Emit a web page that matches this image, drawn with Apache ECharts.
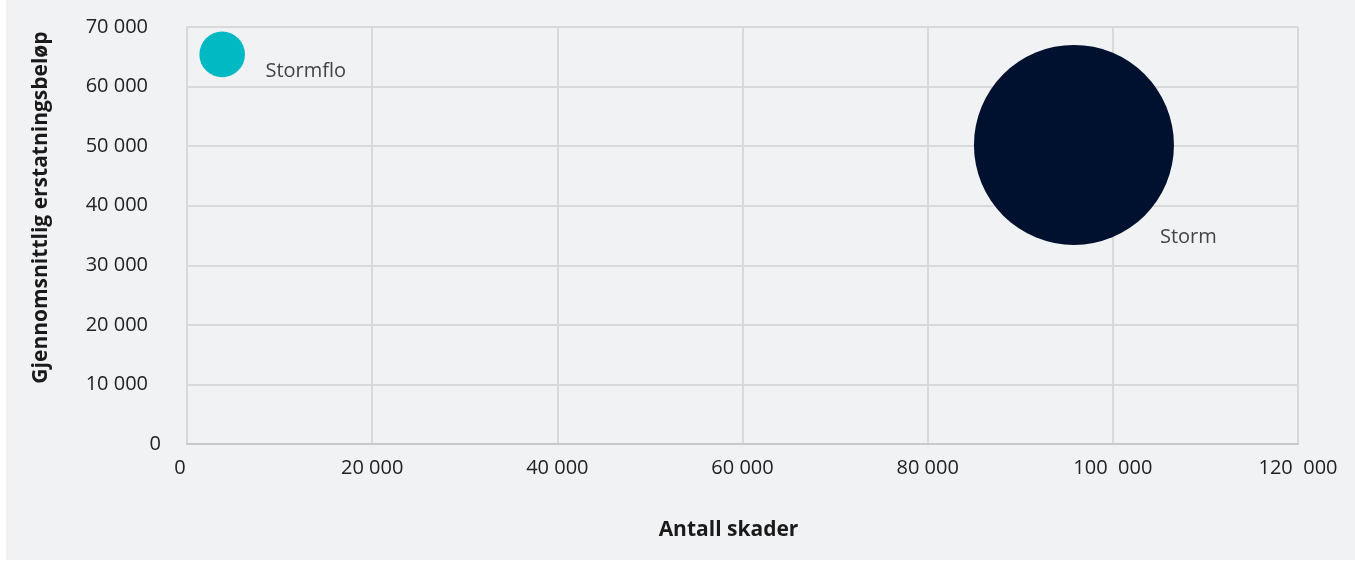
<!DOCTYPE html>
<html lang="no">
<head>
<meta charset="utf-8">
<title>Antall skader og gjennomsnittlig erstatningsbeløp</title>
<script src="https://cdn.jsdelivr.net/npm/echarts@6/dist/echarts.min.js"></script>
<style>
  html, body { margin: 0; padding: 0; background: #ffffff; }
  #panel { position: absolute; left: 6px; top: 0; width: 1349px; height: 560px; background: #f1f2f4; }
  #chart { position: absolute; left: -6px; top: 0; width: 1355px; height: 561px; }
</style>
</head>
<body>
<div id="panel"><div id="chart"></div></div>
<script>
// Skadetyper
const categories = ['Stormflo', 'Storm'];
// Antall skader
const claimCounts = [3800, 95800];
// Gjennomsnittlig erstatningsbeløp (kr)
const avgPayouts = [65400, 50200];
// Samlet erstatning (mill. kr) – styrer boblestørrelsen
const totalPayouts = [250, 4810];
const colors = ['#00b9c2', '#00112f'];

const xTickLabels = ['0', '20 000', '40 000', '60 000', '80 000', '100  000', '120  000'];
const yTickLabels = ['0', '10 000', '20 000', '30 000', '40 000', '50 000', '60 000', '70 000'];

const maxTotal = Math.max(...totalPayouts);
const MAX_BUBBLE = 200;
const labelPositions = [['145%', '86%'], ['93%', '96%']];

const data = categories.map((name, i) => ({
  name,
  value: [claimCounts[i], avgPayouts[i], totalPayouts[i]],
  itemStyle: { color: colors[i], opacity: 1 },
  label: { position: labelPositions[i] }
}));

const chart = echarts.init(document.getElementById('chart'), null, { renderer: 'canvas' });
chart.setOption({
  backgroundColor: 'transparent',
  animation: false,
  textStyle: { fontFamily: 'Open Sans' },
  grid: { left: 187, right: 57, top: 27, bottom: 117 },
  xAxis: {
    type: 'value', min: 0, max: 120000, interval: 20000,
    name: 'Antall skader', nameLocation: 'middle', nameGap: 76,
    nameTextStyle: { fontFamily: 'Open Sans', fontWeight: 'bold', fontSize: 21, color: '#1a1a1a', padding: [0, 28, 0, 0] },
    axisLine: { show: true, lineStyle: { color: '#c9c9c9', width: 2 } },
    axisTick: { show: false },
    axisLabel: {
      margin: 14, fontSize: 20, color: '#222222', fontFamily: 'Open Sans',
      formatter: v => {
        const t = xTickLabels[Math.round(v / 20000)];
        return v === 0 ? '{z|' + t + '}' : t;
      },
      rich: { z: { fontSize: 20, color: '#222222', fontFamily: 'Open Sans', padding: [0, 14, 0, 0] } }
    },
    splitLine: { show: true, lineStyle: { color: '#d9d9d9', width: 2 } }
  },
  yAxis: {
    type: 'value', min: 0, max: 70000, interval: 10000,
    name: 'Gjennomsnittlig erstatningsbeløp', nameLocation: 'middle', nameGap: 135,
    nameTextStyle: { fontFamily: 'Open Sans', fontWeight: 'bold', fontSize: 21, color: '#1a1a1a', padding: [0, 0, 0, 56] },
    axisLine: { show: true, lineStyle: { color: '#d9d9d9', width: 2 } },
    axisTick: { show: false },
    axisLabel: {
      margin: 26, fontSize: 20, color: '#222222', fontFamily: 'Open Sans',
      formatter: v => {
        const t = yTickLabels[Math.round(v / 10000)];
        return v === 0 ? t : '{n|' + t + '}';
      },
      rich: { n: { fontSize: 20, color: '#222222', fontFamily: 'Open Sans', padding: [0, 13, 0, 0] } }
    },
    splitLine: { show: true, lineStyle: { color: '#d9d9d9', width: 2 } }
  },
  series: [{
    type: 'scatter',
    data,
    symbol: 'circle',
    symbolSize: v => MAX_BUBBLE * Math.sqrt(v[2] / maxTotal),
    label: {
      show: true,
      formatter: p => p.name,
      fontSize: 20, color: '#444444', fontFamily: 'Open Sans',
      align: 'left', verticalAlign: 'middle'
    },
    emphasis: { disabled: true }
  }]
});
</script>
</body>
</html>
